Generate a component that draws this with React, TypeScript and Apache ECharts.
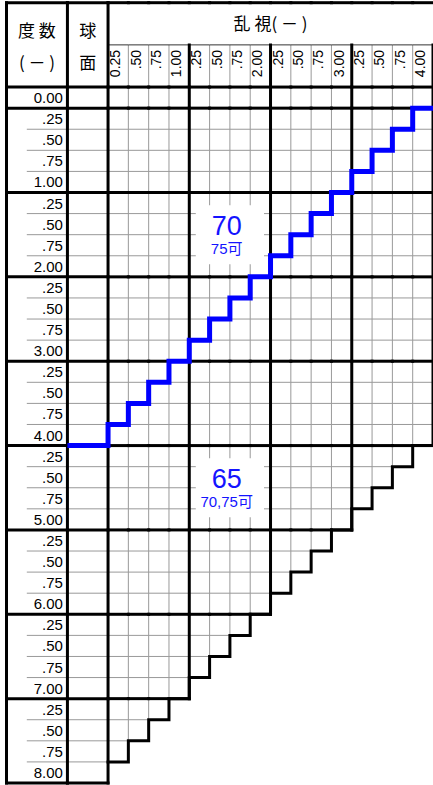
import React, { useEffect, useRef } from 'react';
import * as echarts from 'echarts';

// 度数 (sphere) rows
const sphereLabels = ['0.00', '.25', '.50', '.75', '1.00', '.25', '.50', '.75', '2.00', '.25', '.50', '.75', '3.00', '.25', '.50', '.75', '4.00', '.25', '.50', '.75', '5.00', '.25', '.50', '.75', '6.00', '.25', '.50', '.75', '7.00', '.25', '.50', '.75', '8.00'];
const sphereValues = [0, 0.25, 0.5, 0.75, 1, 1.25, 1.5, 1.75, 2, 2.25, 2.5, 2.75, 3, 3.25, 3.5, 3.75, 4, 4.25, 4.5, 4.75, 5, 5.25, 5.5, 5.75, 6, 6.25, 6.5, 6.75, 7, 7.25, 7.5, 7.75, 8];

// 乱視 (cylinder) columns
const cylinderLabels = ['0.25', '.50', '.75', '1.00', '.25', '.50', '.75', '2.00', '.25', '.50', '.75', '3.00', '.25', '.50', '.75', '4.00'];
const cylinderValues = [0.25, 0.5, 0.75, 1, 1.25, 1.5, 1.75, 2, 2.25, 2.5, 2.75, 3, 3.25, 3.5, 3.75, 4];

// deepest sphere row that exists in each column (black staircase)
const sphericalTableLimit = 8;
const tableLimit = [7.75, 7.5, 7.25, 7, 6.75, 6.5, 6.25, 6, 5.75, 5.5, 5.25, 5, 4.75, 4.5, 4.25, 4];

// limit of the "70" zone per column (blue staircase)
const sphericalLimit70 = 4;
const limit70 = [3.75, 3.5, 3.25, 3, 2.75, 2.5, 2.25, 2, 1.75, 1.5, 1.25, 1, 0.75, 0.5, 0.25, 0];

// zone annotations
const zoneTitles = ['70', '65'];
const zoneNotes = ['75可', '70,75可'];

const LATIN = '"Liberation Sans", Arial, "Noto Sans CJK JP", sans-serif';
const CJK = '"Noto Sans CJK JP", "Liberation Sans", sans-serif';
const BLUE = '#0000ff';

function seg(api: any, p: number[], q: number[], stroke: string, w: number, cap = 'butt') {
  const a = api.coord(p);
  const b = api.coord(q);
  return {
    type: 'line',
    shape: { x1: a[0], y1: a[1], x2: b[0], y2: b[1] },
    style: { stroke, lineWidth: w, lineCap: cap },
    silent: true,
  };
}

export default function App() {
  const ref = useRef<HTMLDivElement>(null);

  useEffect(() => {
    const chart = echarts.init(ref.current!, null, { renderer: 'svg' });

    // columns: [x0, x1, bottom, kind] kind 0=度数, 1=球面, 2=乱視
    const columns: number[][] = [
      [-1.25, -0.5, sphericalTableLimit, 0],
      [-0.5, 0, sphericalTableLimit, 1],
      ...cylinderValues.map((c, i) => [c - 0.25, c, tableLimit[i], 2]),
    ];

    const blueData: number[][] = [[-0.5, sphericalLimit70], [0, sphericalLimit70]];
    cylinderValues.forEach((c, i) => {
      blueData.push([c - 0.25, limit70[i]]);
      blueData.push([c, limit70[i]]);
    });
    const blackData: number[][] = [];
    cylinderValues.forEach((c, i) => {
      blackData.push([c - 0.25, tableLimit[i]]);
      blackData.push([c, tableLimit[i]]);
    });

    const zonePlacement = [
      { cx: 1.46, title: 1.4, note: 1.665, box: [1.08, 1.15, 1.92, 1.85] },
      { cx: 1.46, title: 4.4, note: 4.665, box: [1.08, 4.15, 1.92, 4.85] },
    ];

    const option: any = {
      animation: false,
      backgroundColor: '#fff',
      grid: { left: 6.5, top: 2.7, width: 430.5, height: 780.3 },
      xAxis: { type: 'value', min: -1.25, max: 4, show: false },
      yAxis: { type: 'value', min: -1.25, max: 8, inverse: true, show: false },
      series: [
        {
          type: 'custom',
          name: 'thin',
          z: 1,
          silent: true,
          data: columns,
          renderItem: (params: any, api: any) => {
            const x0 = api.value(0), x1 = api.value(1), bottom = api.value(2), kind = api.value(3);
            const children: any[] = [];
            const xs = kind === 0 ? -1.0 : x0;
            for (const s of sphereValues) {
              if (s >= bottom) break;
              if (s % 1 === 0) continue;
              children.push(seg(api, [xs, s], [x1, s], '#999', 1));
            }
            if (kind === 2) {
              if (x1 % 1 !== 0) children.push(seg(api, [x1, -0.75], [x1, bottom], '#999', 1));
              children.push(seg(api, [x0, -0.75], [x1, -0.75], '#333', 1));
            }
            return { type: 'group', children };
          },
        },
        {
          type: 'custom',
          name: 'thick',
          z: 2,
          silent: true,
          data: columns,
          renderItem: (params: any, api: any) => {
            const x0 = api.value(0), x1 = api.value(1), bottom = api.value(2), kind = api.value(3);
            const children: any[] = [];
            const K = '#000';
            children.push(seg(api, [x0, -1.25], [x1, -1.25], K, 3, 'square'));
            children.push(seg(api, [x0, -0.25], [x1, -0.25], K, 3, 'square'));
            for (const s of sphereValues) {
              if (s % 1 === 0 && s <= bottom) children.push(seg(api, [x0, s], [x1, s], K, 3, 'square'));
            }
            if (kind === 0) children.push(seg(api, [x0, -1.25], [x0, bottom], K, 3, 'square'));
            if (kind === 0 || kind === 1) children.push(seg(api, [x1, -1.25], [x1, bottom], K, 3, 'square'));
            if (kind === 2 && x1 % 1 === 0) children.push(seg(api, [x1, -0.75], [x1, bottom], K, 3, 'square'));
            return { type: 'group', children };
          },
        },
        {
          type: 'line',
          name: 'table edge',
          z: 3,
          silent: true,
          data: blackData,
          symbol: 'none',
          lineStyle: { color: '#000', width: 3, join: 'miter', cap: 'square' },
        },
        {
          type: 'custom',
          name: 'rowLabels',
          z: 4,
          silent: true,
          data: sphereValues.map((s, i) => [s, i]),
          renderItem: (params: any, api: any) => {
            const s = api.value(0);
            const i = api.value(1);
            const p = api.coord([-0.5, s - 0.125]);
            return {
              type: 'text',
              x: p[0] - 4.5,
              y: p[1],
              style: { text: sphereLabels[i], fill: '#000', font: `15px ${LATIN}`, align: 'right', verticalAlign: 'middle' },
            };
          },
        },
        {
          type: 'custom',
          name: 'colLabels',
          z: 4,
          silent: true,
          data: cylinderValues.map((c, i) => [c, i]),
          renderItem: (params: any, api: any) => {
            const c = api.value(0);
            const i = api.value(1);
            const p = api.coord([c - 0.125, -0.75]);
            return {
              type: 'text',
              x: p[0] - 3,
              y: p[1] + 5,
              rotation: Math.PI / 2,
              style: { text: cylinderLabels[i], fill: '#000', font: `14px ${LATIN}`, align: 'right', verticalAlign: 'middle' },
            };
          },
        },
        {
          type: 'custom',
          name: 'header',
          z: 4,
          silent: true,
          data: [[0, 0]],
          renderItem: (params: any, api: any) => {
            const t = (x: number, y: number, text: string) => {
              const p = api.coord([x, y]);
              return {
                type: 'text',
                x: p[0],
                y: p[1],
                style: { text, fill: '#000', font: `17px ${CJK}`, align: 'center', verticalAlign: 'middle' },
              };
            };
            return {
              type: 'group',
              children: [
                t(-0.875, -0.93, '度 数'),
                t(-0.875, -0.55, '( － )'),
                t(-0.25, -0.93, '球'),
                t(-0.25, -0.55, '面'),
                t(2, -1.02, '乱 視( － )'),
              ],
            };
          },
        },
        {
          type: 'custom',
          name: 'zones',
          z: 5,
          silent: true,
          data: zoneTitles.map((_, i) => [i, i]),
          renderItem: (params: any, api: any) => {
            const i = api.value(0);
            const pl = zonePlacement[i];
            const a = api.coord([pl.box[0], pl.box[1]]);
            const b = api.coord([pl.box[2], pl.box[3]]);
            const pt = api.coord([pl.cx, pl.title]);
            const pn = api.coord([pl.cx, pl.note]);
            return {
              type: 'group',
              children: [
                { type: 'rect', shape: { x: a[0], y: a[1], width: b[0] - a[0], height: b[1] - a[1] }, style: { fill: '#fff' } },
                { type: 'text', x: pt[0], y: pt[1], style: { text: zoneTitles[i], fill: '#1414ff', font: `27px ${LATIN}`, lineHeight: 24, align: 'center', verticalAlign: 'middle' } },
                { type: 'text', x: pn[0], y: pn[1], style: { text: zoneNotes[i], fill: '#1414ff', font: `15px ${LATIN}`, lineHeight: 15, align: 'center', verticalAlign: 'middle' } },
              ],
            };
          },
        },
        {
          type: 'line',
          name: '70',
          z: 6,
          silent: true,
          data: blueData,
          symbol: 'none',
          lineStyle: { color: BLUE, width: 5, join: 'miter' },
        },
      ],
    };

    chart.setOption(option);
    return () => chart.dispose();
  }, []);

  return <div ref={ref} style={{ position: 'absolute', left: 0, top: 0, width: 433, height: 785, background: '#fff' }} />;
}
